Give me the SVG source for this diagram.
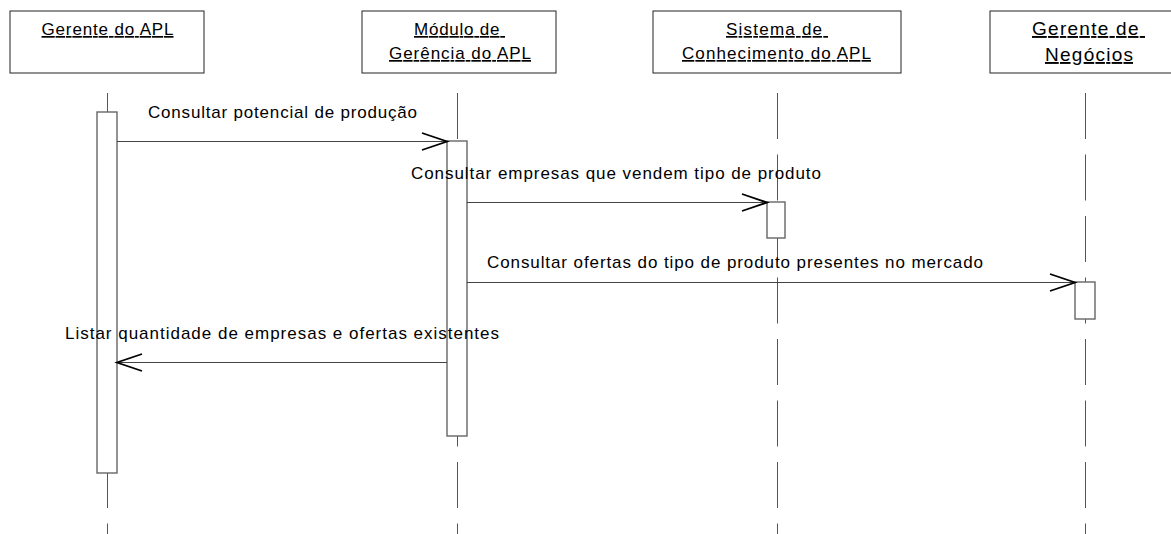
<svg xmlns="http://www.w3.org/2000/svg" width="1171" height="534" viewBox="0 0 1171 534">
<style>
.hdr{fill:#fff;stroke:#222;stroke-width:1}
.life{stroke:#555;stroke-width:1;stroke-dasharray:46 15.5;fill:none}
.act{fill:#fff;stroke:#666;stroke-width:1.4}
.t{font-family:"Liberation Sans",Arial,sans-serif;font-size:17px;fill:#000}
.u{text-decoration:underline}
.msg{stroke:#444;stroke-width:1;fill:none;marker-end:url(#open)}
</style>
<defs>
<marker id="open" markerUnits="userSpaceOnUse" markerWidth="30" markerHeight="22" refX="26" refY="9.5" orient="auto">
<path d="M1,1 L26,9.5 L1,18" fill="none" stroke="#000" stroke-width="1.8"/>
</marker>
</defs>
<rect width="1171" height="534" fill="#fff"/>

<g id="gerente-apl">
<rect class="hdr" x="10" y="11" width="194" height="62"/>
<text class="t u" x="41.5" y="35" textLength="132" lengthAdjust="spacing">Gerente do APL</text>
<line class="life" x1="107.5" y1="93" x2="107.5" y2="534"/>
<rect class="act" x="97" y="112" width="20" height="361"/>
</g>

<g id="modulo-gerencia">
<rect class="hdr" x="362" y="11" width="194" height="62"/>
<text class="t u" x="414" y="35" textLength="91" lengthAdjust="spacing" xml:space="preserve">Módulo de </text>
<text class="t u" x="389" y="59" textLength="142" lengthAdjust="spacing">Gerência do APL</text>
<line class="life" x1="457.5" y1="93" x2="457.5" y2="534"/>
<rect class="act" x="447" y="141" width="20" height="295"/>
</g>

<g id="sistema-conhecimento">
<rect class="hdr" x="653" y="11" width="248" height="62"/>
<text class="t u" x="726" y="35" textLength="102" lengthAdjust="spacing" xml:space="preserve">Sistema de </text>
<text class="t u" x="682" y="59" textLength="189" lengthAdjust="spacing">Conhecimento do APL</text>
<line class="life" x1="777.5" y1="93" x2="777.5" y2="534"/>
<rect class="act" x="767" y="202" width="18" height="36"/>
</g>

<g id="gerente-negocios">
<rect class="hdr" x="990" y="11" width="190" height="62"/>
<text class="t u" x="1032" y="35" style="font-size:19px" textLength="113" lengthAdjust="spacing" xml:space="preserve">Gerente de </text>
<text class="t u" x="1045" y="61" style="font-size:19px" textLength="88" lengthAdjust="spacing">Negócios</text>
<line class="life" x1="1085.5" y1="93" x2="1085.5" y2="534"/>
<rect class="act" x="1075" y="282" width="20" height="37"/>
</g>

<g id="connectors">
<line class="msg" x1="117" y1="141.5" x2="447" y2="141.5"/>
<text class="t" x="148" y="118" textLength="269" lengthAdjust="spacing">Consultar potencial de produção</text>
<line class="msg" x1="467" y1="202.5" x2="767" y2="202.5"/>
<text class="t" x="411" y="179" textLength="410" lengthAdjust="spacing">Consultar empresas que vendem tipo de produto</text>
<line class="msg" x1="467" y1="282.5" x2="1075" y2="282.5"/>
<text class="t" x="487" y="268" textLength="496" lengthAdjust="spacing">Consultar ofertas do tipo de produto presentes no mercado</text>
<line class="msg" x1="447" y1="362.5" x2="117" y2="362.5"/>
<text class="t" x="65" y="339" textLength="434" lengthAdjust="spacing">Listar quantidade de empresas e ofertas existentes</text>
</g>
</svg>
